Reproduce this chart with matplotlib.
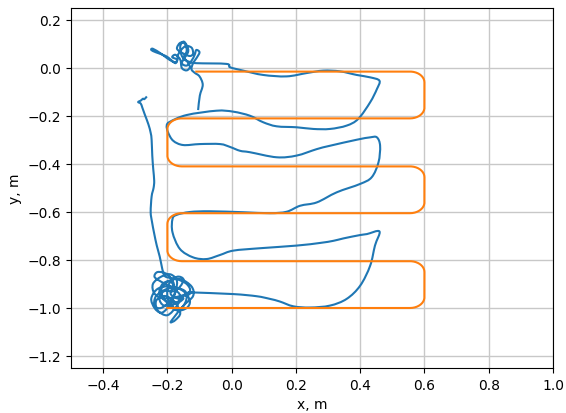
import numpy as np
import matplotlib
matplotlib.use("Agg")
import matplotlib.pyplot as plt
from matplotlib.path import Path
from matplotlib.patches import PathPatch

# ---- measured trajectory (x, y in metres), in travel order ----
hook_leg = [
    (-0.266, -0.122), (-0.272, -0.130), (-0.276, -0.128), (-0.282, -0.135),
    (-0.291, -0.142), (-0.283, -0.148), (-0.278, -0.165), (-0.270, -0.195),
    (-0.259, -0.235), (-0.252, -0.270), (-0.249, -0.300), (-0.247, -0.365),
    (-0.244, -0.421), (-0.241, -0.470), (-0.243, -0.500), (-0.249, -0.535),
    (-0.252, -0.600), (-0.248, -0.640), (-0.241, -0.690), (-0.233, -0.740),
    (-0.224, -0.785), (-0.217, -0.830), (-0.213, -0.850),
]

bottom_cluster = [
    (-0.205, -0.870), (-0.170, -0.880), (-0.140, -0.900), (-0.130, -0.930),
    (-0.160, -0.950), (-0.210, -0.960), (-0.240, -0.940), (-0.245, -0.900),
    (-0.220, -0.870), (-0.190, -0.860), (-0.170, -0.890), (-0.180, -0.950),
    (-0.200, -1.000), (-0.220, -1.020), (-0.240, -1.000), (-0.250, -0.960),
    (-0.230, -0.920), (-0.190, -0.910), (-0.150, -0.930), (-0.130, -0.970),
    (-0.140, -1.000), (-0.170, -1.010), (-0.200, -0.980), (-0.220, -0.930),
    (-0.200, -0.890), (-0.160, -0.880), (-0.125, -0.910), (-0.120, -0.950),
    (-0.150, -0.990), (-0.180, -1.040), (-0.190, -1.060), (-0.175, -1.050),
    (-0.160, -1.020), (-0.180, -0.970), (-0.210, -0.950), (-0.235, -0.970),
    (-0.230, -1.010), (-0.200, -1.030), (-0.170, -0.990), (-0.160, -0.950),
    (-0.180, -0.920), (-0.220, -0.890), (-0.240, -0.870), (-0.230, -0.850),
    (-0.200, -0.860), (-0.180, -0.900), (-0.190, -0.940), (-0.170, -0.960),
    (-0.150, -0.960), (-0.170, -0.980), (-0.210, -0.990), (-0.225, -0.960),
    (-0.210, -0.930), (-0.180, -0.930), (-0.160, -0.910), (-0.150, -0.880),
    (-0.170, -0.870), (-0.195, -0.900), (-0.200, -0.950), (-0.185, -0.990),
    (-0.165, -1.010), (-0.145, -0.980), (-0.140, -0.940), (-0.160, -0.920),
    (-0.200, -0.920), (-0.235, -0.950), (-0.240, -0.990), (-0.220, -1.000),
    (-0.190, -0.970), (-0.175, -0.930), (-0.190, -0.890), (-0.215, -0.900),
    (-0.225, -0.940), (-0.205, -0.970), (-0.170, -0.975), (-0.150, -0.950),
    (-0.140, -0.950), (-0.125, -0.935),
]

serpentine = [
    (-0.125, -0.935), (0.005, -0.942), (0.078, -0.951), (0.119, -0.962),
    (0.150, -0.973), (0.192, -0.993), (0.244, -0.998), (0.306, -0.990),
    (0.358, -0.962), (0.400, -0.907), (0.431, -0.824), (0.446, -0.740),
    (0.460, -0.681), (0.421, -0.692), (0.400, -0.696), (0.348, -0.710),
    (0.317, -0.720), (0.275, -0.729), (0.202, -0.740), (0.088, -0.751),
    (0.005, -0.761), (-0.036, -0.779), (-0.078, -0.796), (-0.120, -0.789),
    (-0.161, -0.754), (-0.184, -0.685), (-0.184, -0.629), (-0.171, -0.612),
    (-0.130, -0.600), (-0.068, -0.597), (0.036, -0.601), (0.119, -0.605),
    (0.171, -0.599), (0.213, -0.574), (0.265, -0.560), (0.327, -0.518),
    (0.400, -0.483), (0.436, -0.455), (0.457, -0.393), (0.462, -0.324),
    (0.452, -0.289), (0.431, -0.289), (0.389, -0.299), (0.306, -0.324),
    (0.265, -0.338), (0.202, -0.365), (0.140, -0.372), (0.057, -0.351),
    (0.026, -0.345), (-0.005, -0.329), (-0.036, -0.317), (-0.099, -0.317),
    (-0.151, -0.321), (-0.182, -0.303), (-0.198, -0.268), (-0.202, -0.240),
    (-0.192, -0.224), (-0.140, -0.196), (-0.047, -0.178), (0.005, -0.182),
    (0.057, -0.199), (0.098, -0.226), (0.140, -0.243), (0.202, -0.247),
    (0.254, -0.254), (0.306, -0.254), (0.358, -0.240), (0.394, -0.212),
    (0.431, -0.143), (0.452, -0.088), (0.460, -0.053), (0.431, -0.039),
    (0.389, -0.029), (0.337, -0.014), (0.285, -0.011), (0.234, -0.021),
    (0.171, -0.035), (0.098, -0.029), (0.036, -0.011), (-0.005, 0.003),
    (-0.016, 0.017), (-0.109, 0.020),
]

top_cluster = [
    (-0.130, 0.025), (-0.150, 0.040), (-0.140, 0.070), (-0.145, 0.100),
    (-0.160, 0.105), (-0.170, 0.080), (-0.150, 0.060), (-0.130, 0.050),
    (-0.120, 0.060), (-0.125, 0.085), (-0.145, 0.090), (-0.165, 0.060),
    (-0.170, 0.030), (-0.180, 0.025), (-0.200, 0.040), (-0.220, 0.060),
    (-0.245, 0.080), (-0.250, 0.075), (-0.235, 0.065), (-0.205, 0.050),
    (-0.190, 0.035), (-0.175, 0.020), (-0.170, 0.035), (-0.185, 0.045),
    (-0.175, 0.055), (-0.160, 0.035), (-0.155, 0.000), (-0.140, -0.010),
    (-0.130, 0.005), (-0.140, 0.030), (-0.155, 0.050), (-0.160, 0.090),
    (-0.150, 0.110), (-0.140, 0.095), (-0.135, 0.070), (-0.145, 0.045),
    (-0.155, 0.020), (-0.140, 0.010), (-0.125, 0.030), (-0.115, 0.055),
    (-0.110, 0.075), (-0.100, 0.065), (-0.110, 0.040), (-0.120, 0.020),
    (-0.125, -0.005), (-0.115, -0.020), (-0.100, -0.035), (-0.090, -0.070),
    (-0.099, -0.115), (-0.104, -0.171),
]

# ---- reference path: waypoints joined with rounded corners ----
ref_x = [-0.11, 0.60, 0.60, -0.20, -0.20, 0.60, 0.60, -0.20, -0.20, 0.60, 0.60, -0.20]
ref_y = [-0.015, -0.015, -0.21, -0.21, -0.41, -0.41, -0.605, -0.605, -0.805, -0.805, -1.00, -1.00]
corner_radius = 0.045


def rounded_path(xs, ys, r, n=20):
    pts = np.column_stack([xs, ys]).astype(float)
    out = [pts[0]]
    for i in range(1, len(pts) - 1):
        a, p, b = pts[i - 1], pts[i], pts[i + 1]
        u1 = (p - a) / np.linalg.norm(p - a)
        u2 = (b - p) / np.linalg.norm(b - p)
        c = p - u1 * r + u2 * r
        t = np.linspace(0, np.pi / 2, n)
        arc = c[None, :] + r * (-np.outer(np.cos(t), u2) + np.outer(np.sin(t), u1))
        out.extend(arc)
    out.append(pts[-1])
    out = np.array(out)
    return out[:, 0], out[:, 1]


def smooth_curve_path(pts):
    """Bezier path passing through every measured point (Catmull-Rom handles)."""
    pts = np.asarray(pts, float)
    ext = np.vstack([pts[0], pts, pts[-1]])
    verts = [pts[0]]
    codes = [Path.MOVETO]
    for i in range(1, len(ext) - 2):
        p0, p1, p2, p3 = ext[i - 1], ext[i], ext[i + 1], ext[i + 2]
        verts += [p1 + (p2 - p0) / 6.0, p2 - (p3 - p1) / 6.0, p2]
        codes += [Path.CURVE4] * 3
    return Path(verts, codes)


traj = hook_leg + bottom_cluster + serpentine + top_cluster

fig = plt.figure(figsize=(5.66, 4.14), dpi=100)
ax = fig.add_axes([0.1254, 0.1087, 0.977 - 0.1254, 0.9783 - 0.1087])
ax.add_patch(PathPatch(smooth_curve_path(traj), facecolor="none",
                       edgecolor="C0", lw=1.5, capstyle="projecting",
                       joinstyle="round"))
rx, ry = rounded_path(ref_x, ref_y, corner_radius)
ax.plot(rx, ry, color="C1", lw=1.5)

ax.set_xlim(-0.5, 1.0)
ax.set_ylim(-1.25, 0.25)
ax.set_xticks(np.arange(-0.4, 1.01, 0.2))
ax.set_yticks(np.arange(-1.2, 0.21, 0.2))
ax.grid(True, color="#c8c8c8", linewidth=1.0)
ax.set_axisbelow(True)
ax.set_xlabel("x, m")
ax.set_ylabel("y, m")

fig.savefig("out.png", dpi=100)
